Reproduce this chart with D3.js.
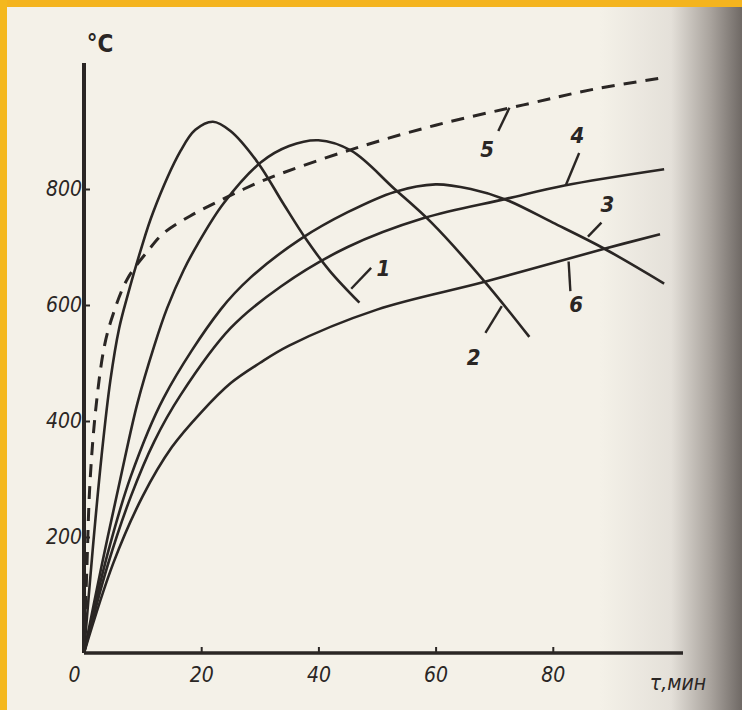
<!DOCTYPE html>
<html>
<head>
<meta charset="utf-8">
<script src="https://cdn.jsdelivr.net/npm/d3@7"></script>
<style>
  body { margin: 0; background: #f4f1e8; }
  svg { display: block; }
</style>
</head>
<body>
<svg></svg>
<script>
// Curve data: [time (min), temperature (°C)]
const curve1 = [[0,0],[1.5,180],[3,340],[4.5,470],[6,560],[7.4,615],[9.6,692],[11.8,760],[16.5,866],[19,902],[22,916],[25,900],[29.7,845],[34,775],[38,712],[42,658],[47,604]];
const curve2 = [[0,0],[3,150],[6.2,300],[9.1,430],[12,530],[14.2,595],[17,660],[19.4,705],[23.8,775],[30.2,846],[35,874],[40,884],[45.6,866],[53,800],[59.3,742],[68.4,640],[76,545]];
const curve3 = [[0,0],[4,170],[8,305],[13.6,440],[23.3,592],[28.5,648],[37,714],[45,760],[53,795],[60,808],[66,800],[71.9,782],[80,742],[88.8,697],[99,637]];
const curve4 = [[0,0],[4,150],[8,270],[12,365],[16.5,445],[25,560],[33.6,632],[45,700],[58,750],[72,783],[82,806],[99,834]];
const curve6 = [[0,0],[5,155],[10,270],[15,355],[20,415],[25,465],[30,500],[35,530],[50,592],[68.4,640],[88.8,697],[98.3,722]];
const curve5 = [[0,0],[0.5,150],[1,290],[2,420],[3.5,530],[5,585],[7.4,645],[10.8,692],[13.6,724],[18.2,754],[22.8,778],[27.3,800],[31.9,820],[45.6,868],[60,910],[75,945],[87,972],[99,992]];

const seriesNames = ["1", "2", "3", "4", "5", "6"];
// label anchor [t, T] and leader line [[t,T],[t,T]]
const labelPos = [[51.1,664],[66.5,509],[89.3,773],[84.2,893],[68.8,868],[84,602]];
const leaders = [
  [[49,664],[45.6,628]],
  [[68.5,552],[71.3,598]],
  [[88.3,742],[86,718]],
  [[84.5,862],[82.2,806]],
  [[70.7,900],[72.6,940]],
  [[83,624],[82.7,675]]
];

const xTicks = [0, 20, 40, 60, 80];
const yTicks = [200, 400, 600, 800];

const W = 742, H = 710;
const svg = d3.select("svg").attr("width", W).attr("height", H);

// page background with scan shading on the right
const defs = svg.append("defs");
const grad = defs.append("linearGradient").attr("id", "shade").attr("x1", 0).attr("x2", 1);
grad.append("stop").attr("offset", "0%").attr("stop-color", "#f4f1e8");
grad.append("stop").attr("offset", "50%").attr("stop-color", "#e4e0d9");
grad.append("stop").attr("offset", "78%").attr("stop-color", "#a9a39d");
grad.append("stop").attr("offset", "100%").attr("stop-color", "#6f6965");

svg.append("rect").attr("width", W).attr("height", H).attr("fill", "#f4f1e8");
svg.append("rect").attr("x", 600).attr("width", 142).attr("height", H).attr("fill", "url(#shade)");
// gold frame (left and top)
svg.append("rect").attr("width", W).attr("height", 7).attr("fill", "#f4b41e");
svg.append("rect").attr("width", 7).attr("height", H).attr("fill", "#f4b81e");

const x = d3.scaleLinear().domain([0, 100]).range([84, 670]);
const y = d3.scaleLinear().domain([0, 1000]).range([653, 73]);

const ink = "#2a2624";

// axes drawn by hand-like lines
svg.append("line")
    .attr("x1", x(0)).attr("x2", x(0))
    .attr("y1", 63).attr("y2", y(0))
    .attr("stroke", ink).attr("stroke-width", 4);
svg.append("line")
    .attr("x1", x(0)).attr("x2", 683)
    .attr("y1", y(0)).attr("y2", y(0))
    .attr("stroke", ink).attr("stroke-width", 3.5);

const xAxis = svg.append("g")
    .attr("transform", `translate(0,${y(0)})`)
    .call(d3.axisBottom(x).tickValues(xTicks).tickSize(-6).tickPadding(14));
const yAxis = svg.append("g")
    .attr("transform", `translate(${x(0)},0)`)
    .call(d3.axisLeft(y).tickValues(yTicks).tickSize(-6).tickPadding(6));

[xAxis, yAxis].forEach(g => {
    g.select(".domain").remove();
    g.selectAll("line").attr("stroke", ink).attr("stroke-width", 2);
    g.selectAll("text")
        .attr("fill", ink)
        .style("font-family", "'DejaVu Sans Condensed', 'Liberation Sans Narrow', sans-serif")
        .style("font-style", "italic")
        .style("font-size", "21px");
});
yAxis.selectAll("text").attr("dx", "4px");
xAxis.selectAll("text").filter(d => d === 0).attr("dx", "-10px");

svg.append("text")
    .attr("x", 100).attr("y", 52)
    .attr("text-anchor", "middle")
    .attr("fill", ink)
    .style("font-family", "'DejaVu Sans Condensed', sans-serif")
    .style("font-size", "24px")
    .style("font-weight", "bold")
    .text("°C");

svg.append("text")
    .attr("x", 678).attr("y", 690)
    .attr("text-anchor", "middle")
    .attr("fill", ink)
    .style("font-family", "'DejaVu Sans Condensed', sans-serif")
    .style("font-style", "italic")
    .style("font-size", "21px")
    .text("τ,мин");

// curves
const line = d3.line()
    .x(d => x(d[0]))
    .y(d => y(d[1]))
    .curve(d3.curveCatmullRom.alpha(0.5));

[curve1, curve2, curve3, curve4, curve6].forEach(c => {
    svg.append("path")
        .attr("d", line(c))
        .attr("fill", "none")
        .attr("stroke", ink)
        .attr("stroke-width", 2.6);
});

svg.append("path")
    .attr("d", line(curve5))
    .attr("fill", "none")
    .attr("stroke", ink)
    .attr("stroke-width", 3)
    .attr("stroke-dasharray", "13,9");

// leader lines and labels
leaders.forEach(l => {
    svg.append("line")
        .attr("x1", x(l[0][0])).attr("y1", y(l[0][1]))
        .attr("x2", x(l[1][0])).attr("y2", y(l[1][1]))
        .attr("stroke", ink).attr("stroke-width", 2.4);
});

seriesNames.forEach((n, i) => {
    svg.append("text")
        .attr("x", x(labelPos[i][0]))
        .attr("y", y(labelPos[i][1]))
        .attr("dy", "0.35em")
        .attr("text-anchor", "middle")
        .attr("fill", ink)
        .style("font-family", "'DejaVu Sans Condensed', sans-serif")
        .style("font-style", "italic")
        .style("font-weight", "bold")
        .style("font-size", "22px")
        .text(n);
});
</script>
</body>
</html>
